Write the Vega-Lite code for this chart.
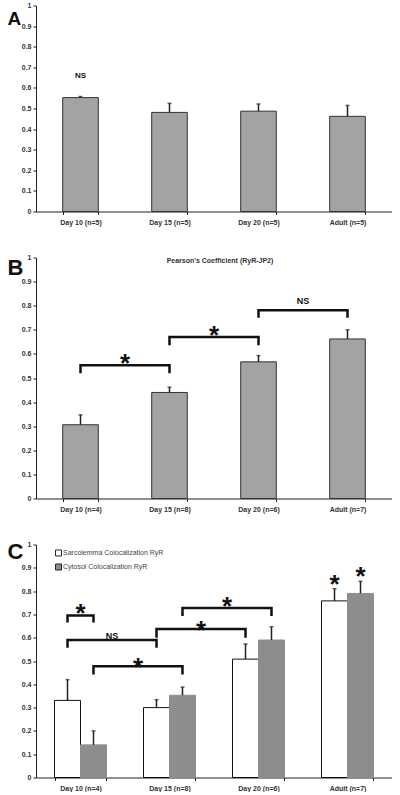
{
  "$schema": "https://vega.github.io/schema/vega-lite/v6.json",
  "padding": {"left": 7, "top": 1.5, "right": 0, "bottom": 0},
  "spacing": 46,
  "bounds": "flush",
  "resolve": {"legend": {"fill": "independent"}},
  "config": {
    "font": "Liberation Sans",
    "view": {"stroke": null},
    "axis": {"grid": false, "labelFont": "Liberation Sans", "labelFontSize": 7, "labelFontWeight": "bold", "labelColor": "#333", "domainColor": "#222", "tickColor": "#222", "tickSize": 3, "domainWidth": 1, "tickWidth": 1},
    "axisX": {"labelAngle": 0, "tickBand": "extent", "labelPadding": 4},
    "axisY": {"labelPadding": 2, "titleAngle": 0, "titleAlign": "left", "titleBaseline": "alphabetic", "titleFontSize": 22, "titleFontWeight": "bold", "titleColor": "#111", "titleX": -29, "labelOverlap": false, "labelSeparation": -20, "format": ".1~f"},
    "text": {"font": "Liberation Sans", "fontWeight": "bold", "color": "#111"},
    "legend": {"labelFont": "Liberation Sans"}
  },
  "datasets": {
    "A": [
      {"group": "Day 10 (n=5)", "value": 0.553, "upper": 0.558},
      {"group": "Day 15 (n=5)", "value": 0.481, "upper": 0.525},
      {"group": "Day 20 (n=5)", "value": 0.487, "upper": 0.522},
      {"group": "Adult (n=5)", "value": 0.462, "upper": 0.515}
    ],
    "Atext": [{"group": "Day 10 (n=5)", "y": 0.66, "label": "NS"}],
    "B": [
      {"group": "Day 10 (n=4)", "value": 0.306, "upper": 0.347},
      {"group": "Day 15 (n=8)", "value": 0.44, "upper": 0.462},
      {"group": "Day 20 (n=6)", "value": 0.567, "upper": 0.593},
      {"group": "Adult (n=7)", "value": 0.662, "upper": 0.7}
    ],
    "Bbrackets": [
      {"id": 1, "group": "Day 10 (n=4)", "y": 0.52, "step": 1},
      {"id": 1, "group": "Day 10 (n=4)", "y": 0.553, "step": 2},
      {"id": 1, "group": "Day 15 (n=8)", "y": 0.553, "step": 3},
      {"id": 1, "group": "Day 15 (n=8)", "y": 0.52, "step": 4},
      {"id": 2, "group": "Day 15 (n=8)", "y": 0.636, "step": 1},
      {"id": 2, "group": "Day 15 (n=8)", "y": 0.67, "step": 2},
      {"id": 2, "group": "Day 20 (n=6)", "y": 0.67, "step": 3},
      {"id": 2, "group": "Day 20 (n=6)", "y": 0.636, "step": 4},
      {"id": 3, "group": "Day 20 (n=6)", "y": 0.75, "step": 1},
      {"id": 3, "group": "Day 20 (n=6)", "y": 0.781, "step": 2},
      {"id": 3, "group": "Adult (n=7)", "y": 0.781, "step": 3},
      {"id": 3, "group": "Adult (n=7)", "y": 0.75, "step": 4}
    ],
    "Bstars": [
      {"group": "Day 10 (n=4)", "y": 0.583, "label": "*"},
      {"group": "Day 15 (n=8)", "y": 0.703, "label": "*"}
    ],
    "Bns": [{"group": "Day 20 (n=6)", "y": 0.819, "label": "NS"}],
    "C": [
      {"group": "Day 10 (n=4)", "series": "Sarcolemma Colocalization RyR", "value": 0.331, "upper": 0.42},
      {"group": "Day 10 (n=4)", "series": "Cytosol Colocalization RyR", "value": 0.14, "upper": 0.2},
      {"group": "Day 15 (n=8)", "series": "Sarcolemma Colocalization RyR", "value": 0.3, "upper": 0.334},
      {"group": "Day 15 (n=8)", "series": "Cytosol Colocalization RyR", "value": 0.353, "upper": 0.388},
      {"group": "Day 20 (n=6)", "series": "Sarcolemma Colocalization RyR", "value": 0.508, "upper": 0.573},
      {"group": "Day 20 (n=6)", "series": "Cytosol Colocalization RyR", "value": 0.59, "upper": 0.647},
      {"group": "Adult (n=7)", "series": "Sarcolemma Colocalization RyR", "value": 0.758, "upper": 0.81},
      {"group": "Adult (n=7)", "series": "Cytosol Colocalization RyR", "value": 0.79, "upper": 0.842}
    ],
    "Cbrackets": [
      {"id": 1, "group": "Day 10 (n=4)", "series": "Sarcolemma Colocalization RyR", "y": 0.665, "step": 1},
      {"id": 1, "group": "Day 10 (n=4)", "series": "Sarcolemma Colocalization RyR", "y": 0.695, "step": 2},
      {"id": 1, "group": "Day 10 (n=4)", "series": "Cytosol Colocalization RyR", "y": 0.695, "step": 3},
      {"id": 1, "group": "Day 10 (n=4)", "series": "Cytosol Colocalization RyR", "y": 0.665, "step": 4},
      {"id": 2, "group": "Day 10 (n=4)", "series": "Sarcolemma Colocalization RyR", "y": 0.557, "step": 1},
      {"id": 2, "group": "Day 10 (n=4)", "series": "Sarcolemma Colocalization RyR", "y": 0.59, "step": 2},
      {"id": 2, "group": "Day 15 (n=8)", "series": "Sarcolemma Colocalization RyR", "y": 0.59, "step": 3},
      {"id": 2, "group": "Day 15 (n=8)", "series": "Sarcolemma Colocalization RyR", "y": 0.557, "step": 4},
      {"id": 3, "group": "Day 10 (n=4)", "series": "Cytosol Colocalization RyR", "y": 0.442, "step": 1},
      {"id": 3, "group": "Day 10 (n=4)", "series": "Cytosol Colocalization RyR", "y": 0.478, "step": 2},
      {"id": 3, "group": "Day 15 (n=8)", "series": "Cytosol Colocalization RyR", "y": 0.478, "step": 3},
      {"id": 3, "group": "Day 15 (n=8)", "series": "Cytosol Colocalization RyR", "y": 0.442, "step": 4},
      {"id": 4, "group": "Day 15 (n=8)", "series": "Sarcolemma Colocalization RyR", "y": 0.6, "step": 1},
      {"id": 4, "group": "Day 15 (n=8)", "series": "Sarcolemma Colocalization RyR", "y": 0.637, "step": 2},
      {"id": 4, "group": "Day 20 (n=6)", "series": "Sarcolemma Colocalization RyR", "y": 0.637, "step": 3},
      {"id": 4, "group": "Day 20 (n=6)", "series": "Sarcolemma Colocalization RyR", "y": 0.6, "step": 4},
      {"id": 5, "group": "Day 15 (n=8)", "series": "Cytosol Colocalization RyR", "y": 0.693, "step": 1},
      {"id": 5, "group": "Day 15 (n=8)", "series": "Cytosol Colocalization RyR", "y": 0.727, "step": 2},
      {"id": 5, "group": "Day 20 (n=6)", "series": "Cytosol Colocalization RyR", "y": 0.727, "step": 3},
      {"id": 5, "group": "Day 20 (n=6)", "series": "Cytosol Colocalization RyR", "y": 0.693, "step": 4}
    ],
    "CstarGroup": [{"group": "Day 10 (n=4)", "y": 0.728, "label": "*"}],
    "CstarBetween": [
      {"group": "Day 10 (n=4)", "series": "Cytosol Colocalization RyR", "y": 0.5, "label": "*"},
      {"group": "Day 15 (n=8)", "series": "Sarcolemma Colocalization RyR", "y": 0.658, "label": "*"},
      {"group": "Day 15 (n=8)", "series": "Cytosol Colocalization RyR", "y": 0.758, "label": "*"}
    ],
    "CnsBetween": [{"group": "Day 10 (n=4)", "series": "Sarcolemma Colocalization RyR", "y": 0.607, "label": "NS"}],
    "CstarBar": [
      {"group": "Adult (n=7)", "series": "Sarcolemma Colocalization RyR", "y": 0.856, "label": "*"},
      {"group": "Adult (n=7)", "series": "Cytosol Colocalization RyR", "y": 0.888, "label": "*"}
    ]
  },
  "vconcat": [
    {
      "width": 356,
      "height": 206,
      "encoding": {
        "x": {"field": "group", "type": "nominal", "title": null, "scale": {"domain": ["Day 10 (n=5)", "Day 15 (n=5)", "Day 20 (n=5)", "Adult (n=5)"], "paddingInner": 0.6, "paddingOuter": 0.3}},
        "y": {"field": "value", "type": "quantitative", "scale": {"domain": [0, 1], "nice": false}, "axis": {"title": "A", "titleY": 19, "titleX": -29, "titleFontSize": 19, "values": [0, 0.1, 0.2, 0.3, 0.4, 0.5, 0.6, 0.7, 0.8, 0.9, 1], "labelSeparation": -20, "labelOverlap": false}}
      },
      "layer": [
        {"data": {"name": "A"}, "mark": {"type": "bar", "fill": "#a3a3a3", "stroke": "#333", "strokeWidth": 1}},
        {"data": {"name": "A"}, "mark": {"type": "rule", "color": "#222", "strokeWidth": 1.5}, "encoding": {"y2": {"field": "upper"}}},
        {"data": {"name": "A"}, "mark": {"type": "tick", "color": "#222", "thickness": 1.5, "size": 4}, "encoding": {"y": {"field": "upper", "type": "quantitative"}}},
        {"data": {"name": "Atext"}, "mark": {"type": "text", "fontSize": 8, "baseline": "middle"}, "encoding": {"y": {"field": "y", "type": "quantitative"}, "text": {"field": "label"}}}
      ]
    },
    {
      "width": 356,
      "height": 241,
      "title": {"text": "Pearson's Coefficient (RyR-JP2)", "fontSize": 7, "fontWeight": "bold", "color": "#333", "anchor": "middle", "frame": "group", "offset": -14, "baseline": "middle", "dx": 6},
      "encoding": {
        "x": {"field": "group", "type": "nominal", "title": null, "scale": {"domain": ["Day 10 (n=4)", "Day 15 (n=8)", "Day 20 (n=6)", "Adult (n=7)"], "paddingInner": 0.6, "paddingOuter": 0.3}},
        "y": {"field": "value", "type": "quantitative", "scale": {"domain": [0, 1], "nice": false}, "axis": {"title": "B", "titleY": 17, "values": [0, 0.1, 0.2, 0.3, 0.4, 0.5, 0.6, 0.7, 0.8, 0.9, 1], "labelSeparation": -20, "labelOverlap": false}}
      },
      "layer": [
        {"data": {"name": "B"}, "mark": {"type": "bar", "fill": "#a3a3a3", "stroke": "#333", "strokeWidth": 1}},
        {"data": {"name": "B"}, "mark": {"type": "rule", "color": "#222", "strokeWidth": 1.5}, "encoding": {"y2": {"field": "upper"}}},
        {"data": {"name": "B"}, "mark": {"type": "tick", "color": "#222", "thickness": 1.5, "size": 4}, "encoding": {"y": {"field": "upper", "type": "quantitative"}}},
        {"data": {"name": "Bbrackets"}, "mark": {"type": "line", "color": "#111", "strokeWidth": 2.5, "strokeCap": "butt", "strokeJoin": "miter"}, "encoding": {"y": {"field": "y", "type": "quantitative"}, "detail": {"field": "id"}, "order": {"field": "step"}}},
        {"data": {"name": "Bstars"}, "mark": {"type": "text", "fontSize": 26, "baseline": "middle", "dy": 6.5, "dx": 44.5}, "encoding": {"y": {"field": "y", "type": "quantitative"}, "text": {"field": "label"}}},
        {"data": {"name": "Bns"}, "mark": {"type": "text", "fontSize": 9, "baseline": "middle", "dx": 44.5}, "encoding": {"y": {"field": "y", "type": "quantitative"}, "text": {"field": "label"}}}
      ]
    },
    {
      "width": 356,
      "height": 233,
      "encoding": {
        "x": {"field": "group", "type": "nominal", "title": null, "scale": {"domain": ["Day 10 (n=4)", "Day 15 (n=8)", "Day 20 (n=6)", "Adult (n=7)"], "paddingInner": 0.416, "paddingOuter": 0.208}},
        "y": {"field": "value", "type": "quantitative", "scale": {"domain": [0, 1], "nice": false}, "axis": {"title": "C", "titleY": 14, "values": [0, 0.1, 0.2, 0.3, 0.4, 0.5, 0.6, 0.7, 0.8, 0.9, 1], "labelSeparation": -20, "labelOverlap": false}}
      },
      "layer": [
        {
          "data": {"name": "C"},
          "mark": {"type": "bar", "strokeWidth": 1},
          "encoding": {
            "xOffset": {"field": "series", "type": "nominal", "scale": {"domain": ["Sarcolemma Colocalization RyR", "Cytosol Colocalization RyR"], "paddingInner": 0, "paddingOuter": 0}},
            "fill": {"field": "series", "type": "nominal", "scale": {"domain": ["Sarcolemma Colocalization RyR", "Cytosol Colocalization RyR"], "range": ["#ffffff", "#8d8d8d"]},
              "legend": {"title": null, "orient": "none", "legendX": 19, "legendY": 5, "symbolType": "square", "symbolSize": 36, "symbolStrokeColor": "#222", "symbolStrokeWidth": 1, "labelFontSize": 7, "labelColor": "#444", "labelOffset": 1, "rowPadding": 3, "padding": 0}},
            "stroke": {"condition": {"test": "datum.series === 'Sarcolemma Colocalization RyR'", "value": "#111"}, "value": "#8d8d8d"}
          }
        },
        {"data": {"name": "C"}, "mark": {"type": "rule", "color": "#222", "strokeWidth": 1.5}, "encoding": {"xOffset": {"field": "series", "type": "nominal"}, "y2": {"field": "upper"}}},
        {"data": {"name": "C"}, "mark": {"type": "tick", "color": "#222", "thickness": 1.5, "size": 4}, "encoding": {"xOffset": {"field": "series", "type": "nominal"}, "y": {"field": "upper", "type": "quantitative"}}},
        {"data": {"name": "Cbrackets"}, "mark": {"type": "line", "color": "#111", "strokeWidth": 2.5, "strokeCap": "butt", "strokeJoin": "miter"}, "encoding": {"xOffset": {"field": "series", "type": "nominal"}, "y": {"field": "y", "type": "quantitative"}, "detail": {"field": "id"}, "order": {"field": "step"}}},
        {"data": {"name": "CstarGroup"}, "mark": {"type": "text", "fontSize": 26, "baseline": "middle", "dy": 6.5}, "encoding": {"y": {"field": "y", "type": "quantitative"}, "text": {"field": "label"}}},
        {"data": {"name": "CstarBetween"}, "mark": {"type": "text", "fontSize": 26, "baseline": "middle", "dy": 6.5, "dx": 44.5}, "encoding": {"xOffset": {"field": "series", "type": "nominal"}, "y": {"field": "y", "type": "quantitative"}, "text": {"field": "label"}}},
        {"data": {"name": "CnsBetween"}, "mark": {"type": "text", "fontSize": 9, "baseline": "middle", "dx": 44.5}, "encoding": {"xOffset": {"field": "series", "type": "nominal"}, "y": {"field": "y", "type": "quantitative"}, "text": {"field": "label"}}},
        {"data": {"name": "CstarBar"}, "mark": {"type": "text", "fontSize": 26, "baseline": "middle", "dy": 6.5}, "encoding": {"xOffset": {"field": "series", "type": "nominal"}, "y": {"field": "y", "type": "quantitative"}, "text": {"field": "label"}}}
      ]
    }
  ]
}
